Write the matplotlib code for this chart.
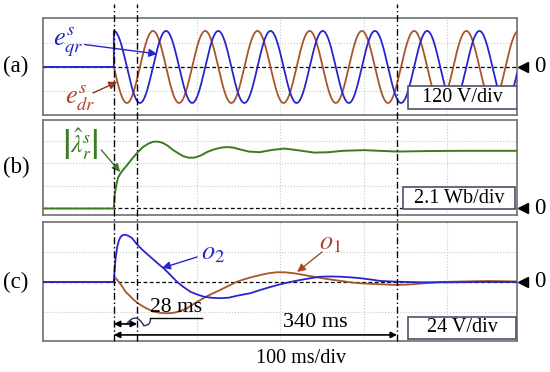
import numpy as np
import matplotlib.pyplot as plt
import matplotlib.transforms as mtransforms
from matplotlib.lines import Line2D
from matplotlib.patches import Rectangle

plt.rcParams['font.family'] = ['Liberation Serif', 'DejaVu Serif']
plt.rcParams['mathtext.fontset'] = 'stix'

#---- datos (tiempo en ms)
t_ini, t_fin = -85, 484
t_eventos = [0, 28, 340]          # lineas punto-raya verticales
t_grid = [0, 100, 200, 300, 400]  # 100 ms/div

# (a) tensiones de rotor: sinusoides de ~180 V pico, ~16 Hz
amp_e = 180.0
frec_e = 15.95

# (b) modulo del flujo estimado [Wb]
t_flujo = [-85, 0, 1, 3, 5, 8, 11, 15, 19, 23, 28, 35, 41, 47, 53, 59, 65, 71,
           77, 83, 90, 97, 105, 112, 120, 128, 136, 144, 152, 162, 175, 190,
           205, 222, 241, 258, 275, 300, 340, 380, 420, 460, 485]
flujo = [0, 0, 1.26, 2.21, 2.86, 3.28, 3.59, 3.95, 4.35, 4.73, 5.19, 5.73,
         6.03, 6.22, 6.24, 6.11, 5.84, 5.46, 5.17, 4.89, 4.73, 4.75, 4.96,
         5.27, 5.50, 5.67, 5.73, 5.67, 5.50, 5.31, 5.25, 5.46, 5.59, 5.42,
         5.21, 5.25, 5.38, 5.44, 5.31, 5.36, 5.38, 5.38, 5.38]

# (c) salidas o1, o2 [V]
t_o2 = [-85, 0, 1, 2, 4, 6, 8, 11, 14, 18, 22, 28, 35, 44, 52, 60, 68, 76, 84,
        92, 100, 108, 118, 128, 138, 148, 164, 176, 188, 200, 212, 224, 236,
        248, 260, 272, 284, 296, 308, 320, 340, 370, 400, 440, 485]
o2 = [0, 0, 10, 18, 28, 33, 36, 37.6, 37.8, 36.8, 35, 30, 25.3, 20, 15.3, 10.8,
      5.6, 0, -4.2, -7.9, -10, -11.8, -12.7, -13, -12.6, -11, -9, -6.4, -4,
      -1.8, 0, 1.6, 3, 4.2, 4.4, 4.2, 3.7, 3, 2, 0.8, 0.2, -0.3, -0.3, 0, 0]
t_o1 = [-85, 0, 0.5, 3, 6, 10, 14, 19, 24, 30, 36, 42, 48, 54, 60, 67, 74, 81,
        88, 96, 104, 112, 120, 128, 138, 148, 156, 164, 176, 186, 196, 206,
        216, 228, 240, 252, 264, 276, 288, 300, 312, 326, 340, 355, 370, 392,
        420, 450, 485]
o1 = [0, 0, 4.2, 2.5, 0, -3.5, -7.8, -11, -14.4, -17.5, -20, -22, -23.8, -24.6,
      -25, -25, -24.4, -23, -21, -17.5, -14.4, -11.3, -8.8, -6.3, -3, 0.2, 2,
      3.6, 5.6, 7, 7.8, 7.7, 7, 5.6, 4.2, 2.8, 1.6, 0.5, -0.6, -1.2, -1.6, -2,
      -2.4, -2, -1.2, 0, 0.4, 0.8, 0.4]

div_a, div_b, div_c = 120, 2.1, 24

azul = '#2626cc'
marron = '#a8552c'
rojo = '#d42a1e'
verde = '#3c7a24'
borde = '#4c5268'

#---- figura
fig = plt.figure(figsize=(5.5, 3.72), dpi=100)
ax_a = fig.add_axes([0.0782, 0.6909, 0.8618, 0.2608])
ax_b = fig.add_axes([0.0782, 0.4220, 0.8618, 0.2554])
ax_c = fig.add_axes([0.0782, 0.0833, 0.8618, 0.3199])

limites = {ax_a: (-2 * div_a, 2.04 * div_a),
           ax_b: (-0.29 * div_b, 3.93 * div_b),
           ax_c: (-1.97 * div_c, 2 * div_c)}
ticks_y = {ax_a: [-div_a, div_a],
           ax_b: [div_b, 2 * div_b, 3 * div_b],
           ax_c: [-div_c, div_c]}

for ax in (ax_a, ax_b, ax_c):
    ax.set_xlim(t_ini, t_fin)
    ax.set_ylim(*limites[ax])
    ax.set_xticks(t_grid)
    ax.set_yticks(ticks_y[ax])
    ax.tick_params(length=0, labelbottom=False, labelleft=False)
    ax.grid(True, color='#c8c8c8', linestyle=':', lw=0.8)
    for s in ax.spines.values():
        s.set_color('#707070')
        s.set_linewidth(1.2)
    ax.axhline(0, color='k', ls=(0, (3, 2)), lw=0.9, zorder=2)
    # marcador de cero a la derecha
    tr = mtransforms.blended_transform_factory(ax.transAxes, ax.transData)
    ax.plot(1.0127, 0, marker='<', color='k', ms=6.5, transform=tr, clip_on=False)
    ax.text(1.0485, 0, '0', transform=tr, ha='center', va='center', fontsize=16.5)

# (a)
t_e = np.linspace(0, t_fin, 3000)
t_sen = np.concatenate([[t_ini, 0], t_e])
eqr = np.concatenate([[0, 0], amp_e * np.cos(2 * np.pi * frec_e * t_e / 1000)])
edr = np.concatenate([[0, 0], -amp_e * np.sin(2 * np.pi * frec_e * t_e / 1000)])
ax_a.plot(t_sen, edr, color=marron, lw=1.3, zorder=3)
ax_a.plot(t_sen, eqr, color=azul, lw=1.3, zorder=4)

ax_a.text(-55, 128, r'$e_{qr}^{s}$', color=azul, fontsize=19, ha='center', va='center')
ax_a.annotate('', xy=(52, 65), xytext=(-35, 112),
              arrowprops=dict(arrowstyle='-|>', color=azul, lw=1, mutation_scale=12,
                              shrinkA=0, shrinkB=0), zorder=6)
ax_a.text(-40, -158, r'$e_{dr}^{s}$', color='#b0402a', fontsize=19, ha='center', va='center')
ax_a.annotate('', xy=(4, -75), xytext=(-25, -130),
              arrowprops=dict(arrowstyle='-|>', color='#7a3a22', lw=1, mutation_scale=12,
                              shrinkA=0, shrinkB=0, fc=rojo), zorder=6)

# (b)
ax_b.plot(t_flujo, flujo, color=verde, lw=1.4, zorder=3)
ax_b.text(-40, 6.0, r'$\left|\hat{\lambda}_{r}^{s}\right|$', color=verde, fontsize=18,
          ha='center', va='center')
ax_b.annotate('', xy=(7.6, 3.4), xytext=(-15, 5.46),
              arrowprops=dict(arrowstyle='-|>', color=verde, lw=1, mutation_scale=12,
                              shrinkA=0, shrinkB=0), zorder=6)

# (c)
ax_c.plot(t_o1, o1, color=marron, lw=1.3, zorder=3)
ax_c.plot(t_o2, o2, color=azul, lw=1.3, zorder=4)
ax_c.text(119, 22.4, r'$o_{2}$', color=azul, fontsize=19, ha='center', va='center')
ax_c.annotate('', xy=(58, 11.2), xytext=(100, 20),
              arrowprops=dict(arrowstyle='-|>', color=azul, lw=1, mutation_scale=12,
                              shrinkA=0, shrinkB=0), zorder=6)
ax_c.text(259.6, 30.4, r'$o_{1}$', color='#b0402a', fontsize=19, ha='center', va='center')
ax_c.annotate('', xy=(220, 8), xytext=(250, 24),
              arrowprops=dict(arrowstyle='-|>', color='#a0502a', lw=1, mutation_scale=12,
                              shrinkA=0, shrinkB=0, fc=rojo), zorder=6)

# cotas de tiempo
ax_c.annotate('', xy=(t_eventos[0], -33.6), xytext=(t_eventos[1], -33.6),
              arrowprops=dict(arrowstyle='<|-|>', color='k', lw=1.2, mutation_scale=9,
                              shrinkA=0, shrinkB=0), zorder=6)
ax_c.annotate('', xy=(t_eventos[0], -42.4), xytext=(t_eventos[2], -42.4),
              arrowprops=dict(arrowstyle='<|-|>', color='k', lw=1.2, mutation_scale=9,
                              shrinkA=0, shrinkB=0), zorder=6)
ax_c.text(75, -20.5, '28 ms', fontsize=15.5, ha='center', va='center', zorder=7)
ax_c.plot([43.6, 106], [-29, -29], color='k', lw=1, zorder=7)
ax_c.annotate('', xy=(36, -35), xytext=(15, -34),
              arrowprops=dict(arrowstyle='-', color='#22305a', lw=1,
                              connectionstyle='arc3,rad=-0.8', shrinkA=0, shrinkB=0))
ax_c.annotate('', xy=(44, -29.5), xytext=(36, -35),
              arrowprops=dict(arrowstyle='-', color='#22305a', lw=1,
                              connectionstyle='arc3,rad=0.5', shrinkA=0, shrinkB=0))
ax_c.text(242, -32.5, '340 ms', fontsize=16, ha='center', va='center', zorder=7)

# recuadros de escala
cajas = [(ax_a, 0.770, 0.062, 0.230, 0.237, f'{div_a} V/div'),
         (ax_b, 0.7595, 0.063, 0.2363, 0.2316, f'{div_b} Wb/div'),
         (ax_c, 0.770, 0.017, 0.228, 0.185, f'{div_c} V/div')]
for ax, x0, y0, w, h, txt in cajas:
    ax.add_patch(Rectangle((x0, y0), w, h, transform=ax.transAxes, fc='white',
                           ec=borde, lw=1.2, zorder=8))
    ax.text(x0 + w / 2, y0 + h / 2, txt, transform=ax.transAxes, ha='center',
            va='center', fontsize=14.5, zorder=9)

# lineas verticales punto-raya a traves de los tres paneles
tr_v = mtransforms.blended_transform_factory(ax_c.transData, fig.transFigure)
for te in t_eventos:
    fig.add_artist(Line2D([te, te], [0.0833, 0.988], transform=tr_v, color='k',
                          lw=1, ls=(0, (5, 2, 1, 2)), zorder=10))

fig.text(0.029, 0.8226, '(a)', fontsize=16.5, ha='center', va='center')
fig.text(0.029, 0.551, '(b)', fontsize=16.5, ha='center', va='center')
fig.text(0.029, 0.242, '(c)', fontsize=16.5, ha='center', va='center')
fig.text(0.547, 0.0376, '100 ms/div', fontsize=14.5, ha='center', va='center')

fig.savefig('out.png', dpi=100)
